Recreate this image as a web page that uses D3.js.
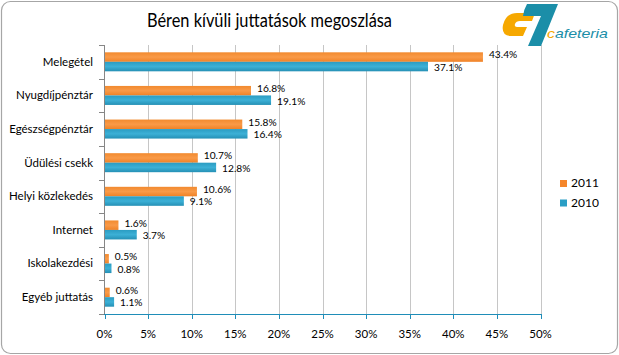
<!DOCTYPE html>
<html><head><meta charset="utf-8">
<script src="https://cdn.jsdelivr.net/npm/d3@7/dist/d3.min.js"></script>
<style>body{margin:0;background:#fff}svg{display:block}</style>
</head><body>
<script>
const categories = ["Melegétel","Nyugdíjpénztár","Egészségpénztár","Üdülési csekk","Helyi közlekedés","Internet","Iskolakezdési","Egyéb juttatás"];
const values2011 = [43.4,16.8,15.8,10.7,10.6,1.6,0.5,0.6];
const values2010 = [37.1,19.1,16.4,12.8,9.1,3.7,0.8,1.1];
const seriesNames = ["2011","2010"];
const xTicks = [0,5,10,15,20,25,30,35,40,45,50];
const title = "Béren kívüli juttatások megoszlása";

const W=619,H=355;
const font="Lato, 'Liberation Sans', sans-serif";
const svg=d3.select("body").append("svg").attr("width",W).attr("height",H);
const defs=svg.append("defs");
const g1=defs.append("linearGradient").attr("id","gO").attr("x1",0).attr("y1",0).attr("x2",0).attr("y2",1);
g1.append("stop").attr("offset","0").attr("stop-color","#f28a2e");
g1.append("stop").attr("offset","0.5").attr("stop-color","#f99a48");
g1.append("stop").attr("offset","1").attr("stop-color","#f08226");
const g2=defs.append("linearGradient").attr("id","gB").attr("x1",0).attr("y1",0).attr("x2",0).attr("y2",1);
g2.append("stop").attr("offset","0").attr("stop-color","#2b9cc2");
g2.append("stop").attr("offset","0.5").attr("stop-color","#3cb0d6");
g2.append("stop").attr("offset","1").attr("stop-color","#2590b5");
const colors={"2011":"url(#gO)","2010":"url(#gB)"};
const legendColors={"2011":"#f5862b","2010":"#2a9ec5"};
const labelShift={"2011":-1.2,"2010":1.8};

svg.append("rect").attr("x",1.5).attr("y",1.5).attr("width",W-3).attr("height",H-3).attr("rx",9)
  .attr("fill","#fff").attr("stroke","#a6a6a6").attr("stroke-width",1.2);

const x=d3.scaleLinear().domain([0,50]).range([104.5,540.5]);
const y0=d3.scaleBand().domain(categories).range([45,314]);
const y1=d3.scaleBand().domain(seriesNames).range([0,y0.bandwidth()]).paddingOuter(0.77);

// gridlines
svg.append("g").selectAll("line").data(xTicks.filter(t=>t>0)).join("line")
  .attr("x1",d=>Math.round(x(d))+0.5).attr("x2",d=>Math.round(x(d))+0.5).attr("y1",45).attr("y2",314)
  .attr("stroke","#c6c6c6").attr("stroke-width",1);

// bars
const data=categories.map((c,i)=>({c,vals:[{s:"2011",v:values2011[i]},{s:"2010",v:values2010[i]}]}));
const gr=svg.append("g").selectAll("g").data(data).join("g").attr("transform",d=>`translate(0,${y0(d.c)})`);
gr.selectAll("rect").data(d=>d.vals).join("rect")
  .attr("x",x(0)).attr("y",d=>y1(d.s)).attr("width",d=>x(d.v)-x(0)).attr("height",y1.bandwidth())
  .attr("fill",d=>colors[d.s]);
gr.selectAll("text").data(d=>d.vals).join("text")
  .attr("x",d=>x(d.v)+6).attr("y",d=>y1(d.s)+y1.bandwidth()/2+labelShift[d.s])
  .attr("dominant-baseline","middle").attr("font-family",font).attr("font-size",10.2).attr("fill","#000")
  .text(d=>d.v.toFixed(1)+"%");

// left axis
const ya=svg.append("g");
ya.append("line").attr("x1",104.5).attr("x2",104.5).attr("y1",45).attr("y2",314).attr("stroke","#868686");
const bounds=categories.map(c=>y0(c)).concat([y0.range()[1]]);
ya.selectAll("line.t").data(bounds).join("line").attr("class","t")
  .attr("x1",99).attr("x2",104.5).attr("y1",d=>Math.round(d)+0.5).attr("y2",d=>Math.round(d)+0.5).attr("stroke","#868686");
ya.selectAll("text").data(categories).join("text")
  .attr("x",93).attr("y",d=>y0(d)+y0.bandwidth()/2+1).attr("text-anchor","end").attr("dominant-baseline","middle")
  .attr("font-family",font).attr("font-size",11.5).attr("fill","#000").text(d=>d);

// bottom axis
const xa=svg.append("g");
xa.append("line").attr("x1",104).attr("x2",541).attr("y1",314.5).attr("y2",314.5).attr("stroke","#1f8db8").attr("stroke-width",1.2);
xa.selectAll("line.t").data(xTicks).join("line").attr("class","t")
  .attr("x1",d=>Math.round(x(d))+0.5).attr("x2",d=>Math.round(x(d))+0.5).attr("y1",314).attr("y2",319).attr("stroke","#1f8db8");
xa.selectAll("text").data(xTicks).join("text")
  .attr("x",d=>x(d)).attr("y",335).attr("text-anchor","middle").attr("dominant-baseline","middle")
  .attr("font-family",font).attr("font-size",11.5).attr("fill","#000").text(d=>d+"%");

// title
svg.append("text").attr("x",269.5).attr("y",27).attr("text-anchor","middle").attr("font-family",font)
  .attr("font-size",18.5).attr("textLength",245).attr("lengthAdjust","spacingAndGlyphs").attr("fill","#000").text(title);

// legend
const lg=svg.append("g").selectAll("g").data(seriesNames).join("g").attr("transform",(d,i)=>`translate(560,${184+i*19.5})`);
lg.append("rect").attr("x",0).attr("y",-4).attr("width",7).attr("height",7).attr("fill",d=>legendColors[d]);
lg.append("text").attr("x",11).attr("y",0).attr("dominant-baseline","middle").attr("font-family",font)
  .attr("font-size",12).attr("fill","#000").text(d=>d);

// logo
const logo=svg.append("g");
logo.append("path").attr("d","M535,13 L517,13 Q506,13 503,25 Q501,36 511,36 L523,36 L527,27 L517,27 Q514,27 515,24 Q516,21 520,21 L532,21 Z").attr("fill","#f6a800");
logo.append("path").attr("d","M527,4 L558,4 L541,46 L528,46 L541,16 L523,16 Q524,9 527,4 Z").attr("fill","#1b8ea8");
logo.append("text").attr("x",547).attr("y",38).attr("font-family","'Liberation Sans', sans-serif").attr("font-style","italic")
  .attr("font-size",13).attr("textLength",61).attr("lengthAdjust","spacingAndGlyphs")
  .html('<tspan fill="#f6a800">c</tspan><tspan fill="#1b8ea8">afeteria</tspan>');
</script>
</body></html>
